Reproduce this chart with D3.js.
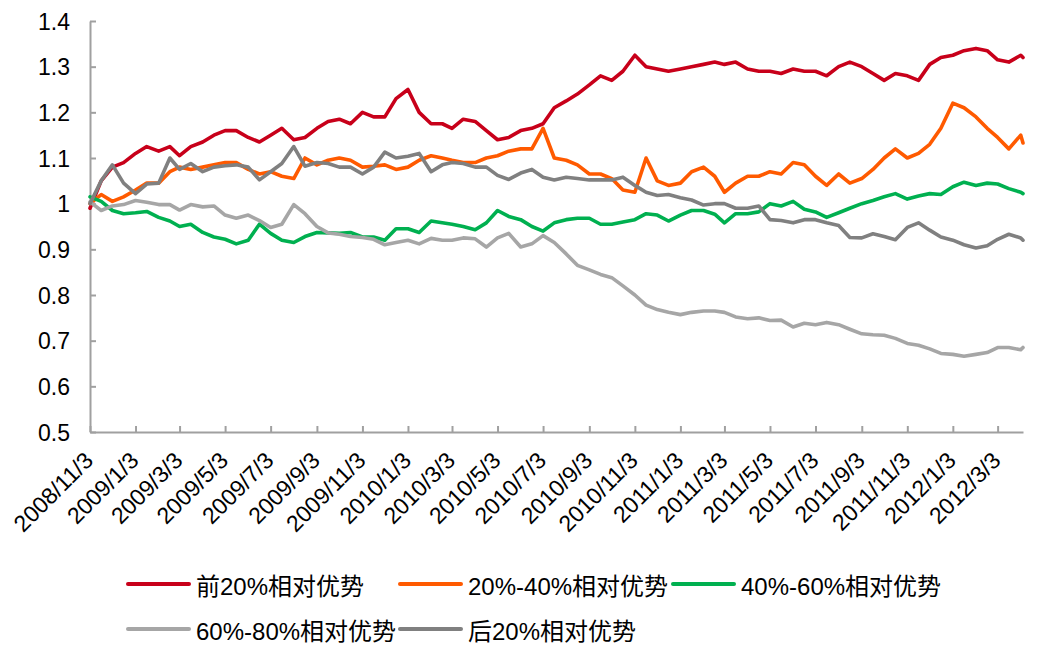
<!DOCTYPE html>
<html>
<head>
<meta charset="utf-8">
<script src="https://cdn.jsdelivr.net/npm/d3@7/dist/d3.min.js"></script>
<style>
  html, body { margin: 0; padding: 0; background: #fff; }
  svg text { font-family: "Liberation Sans", Arial, "Noto Sans CJK SC", sans-serif; fill: #000; }
</style>
</head>
<body>
<div id="chart"></div>
<script>
// 半月取样的日期
const dates = [
  '2008/11/3','2008/11/18','2008/12/3','2008/12/18',
  '2009/1/3','2009/1/18','2009/2/3','2009/2/18','2009/3/3','2009/3/18','2009/4/3','2009/4/18',
  '2009/5/3','2009/5/18','2009/6/3','2009/6/18','2009/7/3','2009/7/18','2009/8/3','2009/8/18',
  '2009/9/3','2009/9/18','2009/10/3','2009/10/18','2009/11/3','2009/11/18','2009/12/3','2009/12/18',
  '2010/1/3','2010/1/18','2010/2/3','2010/2/18','2010/3/3','2010/3/18','2010/4/3','2010/4/18',
  '2010/5/3','2010/5/18','2010/6/3','2010/6/18','2010/7/3','2010/7/18','2010/8/3','2010/8/18',
  '2010/9/3','2010/9/18','2010/10/3','2010/10/18','2010/11/3','2010/11/18','2010/12/3','2010/12/18',
  '2011/1/3','2011/1/18','2011/2/3','2011/2/18','2011/3/3','2011/3/18','2011/4/3','2011/4/18',
  '2011/5/3','2011/5/18','2011/6/3','2011/6/18','2011/7/3','2011/7/18','2011/8/3','2011/8/18',
  '2011/9/3','2011/9/18','2011/10/3','2011/10/18','2011/11/3','2011/11/18','2011/12/3','2011/12/18',
  '2012/1/3','2012/1/18','2012/2/3','2012/2/18','2012/3/3','2012/3/18','2012/4/3','2012/4/6'
];

const top20 = [
  0.99,1.05,1.08,1.09, 1.11,1.125,1.115,1.125,1.105,1.125,1.135,1.15,
  1.16,1.16,1.145,1.135,1.15,1.165,1.14,1.145, 1.165,1.18,1.185,1.175,1.20,1.19,1.19,1.23,
  1.25,1.20,1.175,1.175,1.165,1.185,1.18,1.16, 1.14,1.145,1.16,1.165,1.175,1.21,1.225,1.24,
  1.26,1.28,1.27,1.29,1.325,1.30,1.295,1.29, 1.295,1.30,1.305,1.31,1.305,1.31,1.295,1.29,
  1.29,1.285,1.295,1.29,1.29,1.28,1.30,1.31, 1.30,1.285,1.27,1.285,1.28,1.27,1.305,1.32,
  1.325,1.335,1.34,1.335,1.315,1.31,1.325,1.32
];
const q20to40 = [
  1.0,1.02,1.005,1.015, 1.03,1.045,1.045,1.07,1.08,1.075,1.08,1.085,
  1.09,1.09,1.075,1.065,1.07,1.06,1.055,1.10, 1.085,1.095,1.10,1.095,1.08,1.082,1.085,1.075,
  1.08,1.095,1.105,1.10,1.095,1.09,1.09,1.10, 1.105,1.115,1.12,1.12,1.165,1.10,1.095,1.085,
  1.065,1.065,1.055,1.03,1.025,1.10,1.05,1.04, 1.045,1.07,1.08,1.06,1.025,1.045,1.06,1.06,
  1.07,1.065,1.09,1.085,1.06,1.04,1.065,1.045, 1.055,1.075,1.10,1.12,1.10,1.11,1.13,1.165,
  1.22,1.21,1.19,1.165,1.145,1.12,1.15,1.133
];
const q40to60 = [
  1.015,1.005,0.985,0.978, 0.98,0.983,0.97,0.962,0.95,0.955,0.937,0.927,
  0.922,0.912,0.92,0.955,0.935,0.92,0.915,0.928, 0.937,0.936,0.935,0.937,0.927,0.927,0.92,0.945,
  0.945,0.937,0.962,0.958,0.955,0.95,0.943,0.958, 0.985,0.972,0.965,0.95,0.94,0.958,0.965,0.968,
  0.968,0.955,0.955,0.96,0.965,0.978,0.975,0.962, 0.975,0.985,0.985,0.977,0.958,0.978,0.978,0.982,
  1.0,0.995,1.005,0.988,0.982,0.97,0.98,0.99, 1.0,1.007,1.015,1.022,1.01,1.017,1.022,1.02,
  1.037,1.047,1.04,1.045,1.043,1.033,1.025,1.022
];
const q60to80 = [
  1.004,0.985,0.995,0.998, 1.007,1.003,0.998,0.998,0.986,0.998,0.993,0.995,
  0.975,0.968,0.975,0.963,0.948,0.955,0.998,0.978, 0.95,0.936,0.933,0.928,0.926,0.922,0.91,0.915,
  0.92,0.912,0.924,0.92,0.92,0.925,0.923,0.905, 0.925,0.935,0.905,0.912,0.93,0.915,0.89,0.865,
  0.855,0.845,0.838,0.82,0.80,0.778,0.768,0.762, 0.757,0.762,0.765,0.765,0.762,0.752,0.748,0.75,
  0.744,0.745,0.73,0.738,0.735,0.74,0.735,0.725, 0.715,0.713,0.712,0.705,0.694,0.69,0.682,0.672,
  0.67,0.666,0.67,0.674,0.685,0.685,0.68,0.685
];
const bottom20 = [
  1.0,1.05,1.085,1.045, 1.022,1.043,1.045,1.10,1.075,1.088,1.07,1.08,
  1.083,1.085,1.08,1.052,1.07,1.088,1.125,1.082, 1.09,1.088,1.08,1.08,1.065,1.08,1.113,1.10,
  1.104,1.11,1.07,1.085,1.09,1.088,1.08,1.08, 1.062,1.053,1.067,1.075,1.058,1.052,1.058,1.055,
  1.052,1.052,1.052,1.058,1.04,1.025,1.018,1.02, 1.013,1.008,0.997,1.0,1.0,0.99,0.99,0.995,
  0.965,0.963,0.958,0.965,0.965,0.958,0.952,0.926, 0.925,0.934,0.928,0.921,0.948,0.958,0.942,0.927,
  0.92,0.91,0.903,0.908,0.922,0.933,0.925,0.92
];

const seriesNames = ['前20%相对优势', '20%-40%相对优势', '40%-60%相对优势', '60%-80%相对优势', '后20%相对优势'];
const seriesValues = [top20, q20to40, q40to60, q60to80, bottom20];
const seriesColors = ['#C8001A', '#FF5A00', '#00B050', '#A6A6A6', '#808080'];

const yTicks = [0.5, 0.6, 0.7, 0.8, 0.9, 1.0, 1.1, 1.2, 1.3, 1.4];
const xTickLabels = [
  '2008/11/3','2009/1/3','2009/3/3','2009/5/3','2009/7/3','2009/9/3','2009/11/3',
  '2010/1/3','2010/3/3','2010/5/3','2010/7/3','2010/9/3','2010/11/3',
  '2011/1/3','2011/3/3','2011/5/3','2011/7/3','2011/9/3','2011/11/3',
  '2012/1/3','2012/3/3'
];

const width = 1041, height = 651;
const plot = { left: 90, right: 1023, top: 21, bottom: 432 };
const parse = d3.timeParse('%Y/%m/%d');

const svg = d3.select('#chart').append('svg')
  .attr('width', width).attr('height', height);

const x = d3.scaleTime()
  .domain(d3.extent(dates, parse))
  .range([plot.left, plot.right]);

const y = d3.scaleLinear()
  .domain([0.5, 1.4])
  .range([plot.bottom, plot.top]);

// 坐标轴
const axisColor = '#A0A0A0';

const xAxis = svg.append('g')
  .attr('transform', `translate(0, ${plot.bottom})`)
  .call(d3.axisBottom(x)
    .tickValues(xTickLabels.map(parse))
    .tickFormat(d3.timeFormat('%Y/%-m/%-d'))
    .tickSizeInner(-6).tickSizeOuter(0));
xAxis.select('.domain').style('stroke', axisColor).style('stroke-width', 2);
xAxis.selectAll('.tick line').style('stroke', axisColor).style('stroke-width', 2);
xAxis.selectAll('.tick text')
  .attr('x', 0).attr('y', 0).attr('dy', 0)
  .attr('transform', 'translate(4, 30) rotate(-45)')
  .style('text-anchor', 'end')
  .style('font-size', '23px');

const yAxis = svg.append('g')
  .attr('transform', `translate(${plot.left}, 0)`)
  .call(d3.axisLeft(y)
    .tickValues(yTicks)
    .tickFormat(d => d3.format('~g')(d))
    .tickSizeInner(-6).tickSizeOuter(0));
yAxis.select('.domain').style('stroke', axisColor).style('stroke-width', 2);
yAxis.selectAll('.tick line').style('stroke', axisColor).style('stroke-width', 2);
yAxis.selectAll('.tick text')
  .attr('x', -20).attr('dy', '0.35em')
  .style('font-size', '23px');

// 折线
const line = d3.line()
  .x((d, i) => x(parse(dates[i])))
  .y(d => y(d));

seriesValues.forEach((vals, k) => {
  svg.append('path')
    .datum(vals)
    .attr('d', line)
    .style('fill', 'none')
    .style('stroke', seriesColors[k])
    .style('stroke-width', 3.6)
    .style('stroke-linejoin', 'round')
    .style('stroke-linecap', 'round');
});

// 图例
const legendPos = [
  { lx: 128, ly: 584 }, { lx: 400, ly: 584 }, { lx: 673, ly: 584 },
  { lx: 128, ly: 629 }, { lx: 400, ly: 629 }
];
const legend = svg.append('g');
seriesNames.forEach((name, k) => {
  const p = legendPos[k];
  legend.append('line')
    .attr('x1', p.lx).attr('y1', p.ly)
    .attr('x2', p.lx + 61).attr('y2', p.ly)
    .style('stroke', seriesColors[k])
    .style('stroke-width', 4)
    .style('stroke-linecap', 'round');
  legend.append('text')
    .attr('x', p.lx + 68).attr('y', p.ly + 11)
    .style('font-size', '24px')
    .text(name);
});
</script>
</body>
</html>
